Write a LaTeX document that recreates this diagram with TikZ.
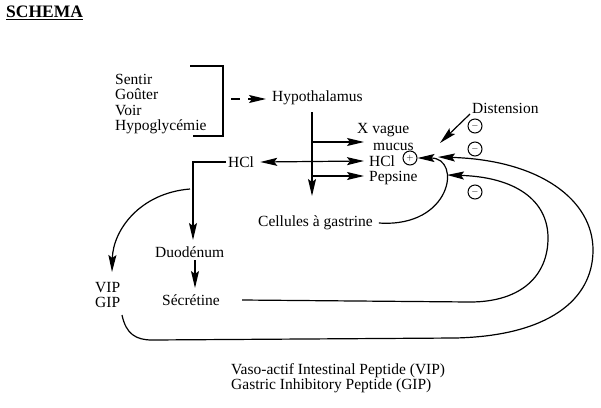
\documentclass[tikz,border=0pt]{standalone}
\usepackage{fontspec}
\setmainfont{Liberation Serif}
\usetikzlibrary{arrows.meta}
\begin{document}
\begin{tikzpicture}[x=1pt,y=-1pt,
  lbl/.style={inner sep=0pt, anchor=west, font=\fontsize{15.5}{15.5}\selectfont},
  ln/.style={line width=1.2pt, draw=black},
  tip/.tip={Stealth[length=17pt,width=8pt,inset=3pt]},
  arr/.style={ln, -tip},
  darr/.style={ln, tip-tip},
  sign/.style={circle, draw, line width=1pt, minimum size=14pt, inner sep=0pt, font=\fontsize{9}{9}\selectfont}
]
\useasboundingbox (0,0) rectangle (601,407);
\fill[white] (0,0) rectangle (601,407);

% title
\node[inner sep=0pt, anchor=west, font=\bfseries\fontsize{17.5}{17.5}\selectfont] (title) at (6,13) {\underline{SCHEMA}};

% senses
\node[lbl, align=left] (senses) at (115,104) {Sentir\\Goûter\\Voir\\Hypoglycémie};
\draw[ln] (190,66) -- (223,66) -- (223,136) -- (193,136);
\coordinate (dashA) at (231,99);
\coordinate (dashB) at (240,99);
\coordinate (arrA) at (248,99);
\coordinate (arrB) at (266,99);
\draw[ln] (dashA) -- (dashB);
\draw[arr] (arrA) -- (arrB);

\node[lbl] (hyp) at (272,98) {Hypothalamus};

% right-hand column
\node[lbl] (xvague) at (357,130) {X vague};
\node[lbl] (mucus) at (373,147) {mucus};
\node[lbl] (hclR) at (369,161) {HCl};
\node[lbl] (peps) at (369,178) {Pepsine};

\coordinate (vtop) at (312,112);
\coordinate (vbot) at (312,196);
\draw[arr] (vtop) -- (vbot);
\coordinate (b1) at (312,142);
\coordinate (b3) at (312,176);
\draw[arr] (b1) -- (364,142);
\draw[arr] (b3) -- (364,176);

% HCl left
\node[lbl] (hclL) at (228,162) {HCl};
\draw[darr] ([xshift=6pt]hclL.east) -- ([xshift=-5pt]hclR.west);

% duodenum
\node[lbl] (duo) at (155,252) {Duodénum};
\node[lbl] (secr) at (162,300) {Sécrétine};
\draw[arr] ([xshift=-2pt]hclL.west) -- (193,162) -- (193,240);
\draw[arr] (195,260) -- (195,288);

% VIP GIP
\node[lbl, align=center] (vip) at (95,295) {VIP\\GIP};
\coordinate (vipstart) at (190,189);
\draw[arr] (vipstart) .. controls (140,193) and (113,230) .. (112,272);

% gastrin cells
\node[lbl] (gast) at (258,223) {Cellules à gastrine};
\node[sign] (plus) at (410,158) {$+$};
\draw[arr] ([xshift=6pt]gast.east) .. controls (452,228) and (462,158) .. (plus.east);

% distension
\node[lbl] (dist) at (472,108) {Distension};
\coordinate (distend) at (440,143);
\draw[arr] (470,114) -- (distend);

% minus signs
\node[sign] (m1) at (475,126) {$-$};
\node[sign] (m2) at (475,149) {$-$};
\node[sign] (m3) at (475,192) {$-$};

% outer feedback loop (VIP/GIP)
\coordinate (outtip) at (438,157);
\draw[arr] (122,315) .. controls (126,334) and (136,340) .. (152,340) -- (455,338)
  .. controls (548,336) and (593,300) .. (593,250)
  .. controls (593,200) and (540,160) .. (outtip);

% inner feedback loop (secretine)
\coordinate (intip) at (447,175);
\draw[arr] ([xshift=22pt]secr.east) -- (470,302)
  .. controls (522,302) and (548,275) .. (548,238)
  .. controls (548,200) and (515,177) .. (intip);

% legend
\node[lbl, align=left] (legend) at (231,378) {Vaso-actif Intestinal Peptide (VIP)\\Gastric Inhibitory Peptide (GIP)};
\end{tikzpicture}
\end{document}
